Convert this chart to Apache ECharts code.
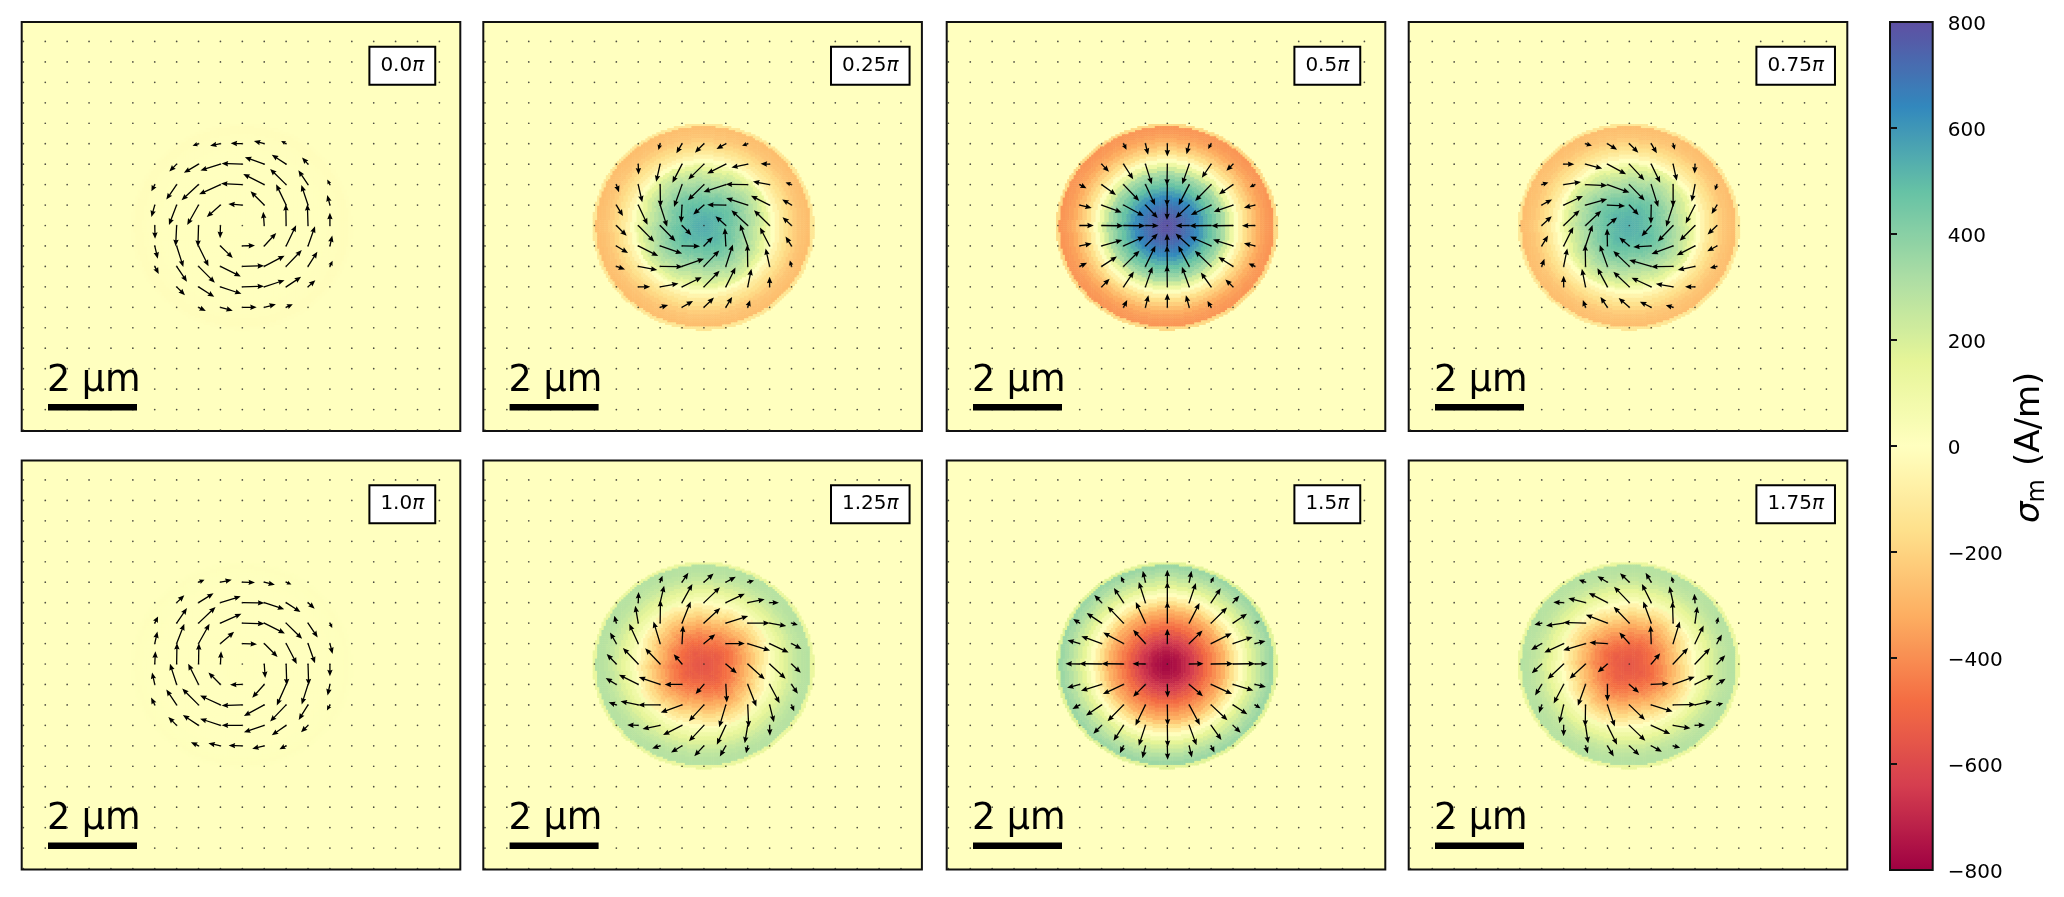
<!DOCTYPE html>
<html>
<head>
<meta charset="utf-8">
<title>sigma_m phases</title>
<script src="https://cdn.jsdelivr.net/npm/echarts@6/dist/echarts.min.js"></script>
<style>
html, body { margin: 0; padding: 0; background: #fff; }
#chart { width: 2064px; height: 897px; }
</style>
</head>
<body>
<div id="chart"></div>
<script>
var phaseLabels = ['0.0', '0.25', '0.5', '0.75', '1.0', '1.25', '1.5', '1.75'];
var colorbarTicks = [-800, -600, -400, -200, 0, 200, 400, 600, 800];
var spectral = ['#9e0142', '#d53e4f', '#f46d43', '#fdae61', '#fee08b', '#ffffbf', '#e6f598', '#abdda4', '#66c2a5', '#3288bd', '#5e4fa2'];
var quiverCols = [0, 1, 2, 3, 4, 5, 6, 7, 8, 9, 10, 11, 12, 13, 14, 15, 16, 17, 18, 19];
var quiverRows = [1, 2, 3, 4, 5, 6, 7, 8, 9, 10, 11, 12, 13, 14, 15, 16, 17, 18, 19, 20];

// sigma_m (A/m) read ring by ring, centre to rim, one ring per 4.4 px
var profile_00 = [2, 2, 2, 2, 2, 1, 1, 1, 1, 0, 0, 0, 0, 0, 0, 0, 0, -1, -1, -2, -3, -4, -6, -8, -9, -4, 0];
var profile_025 = [540, 535, 525, 510, 495, 475, 455, 430, 395, 360, 325, 290, 250, 210, 145, 75, 5, -55, -110, -150, -185, -220, -245, -260, -270, -125, -15];
var profile_05 = [790, 785, 770, 750, 725, 695, 665, 635, 585, 530, 480, 430, 375, 320, 220, 110, 10, -80, -160, -215, -270, -320, -350, -370, -380, -180, -25];
var profile_075 = [530, 525, 518, 505, 490, 470, 450, 425, 390, 355, 320, 285, 245, 205, 140, 70, 0, -55, -110, -150, -185, -220, -245, -258, -268, -125, -15];
var profile_10 = [-2, -2, -2, -2, -2, -1, -1, -1, -1, 0, 0, 0, 0, 0, 0, 0, 0, 1, 1, 2, 3, 4, 6, 8, 9, 4, 0];
var profile_125 = [-555, -550, -540, -525, -505, -480, -450, -415, -375, -330, -285, -235, -180, -125, -65, -5, 50, 100, 145, 185, 220, 250, 270, 285, 290, 130, 15];
var profile_15 = [-775, -770, -755, -735, -705, -670, -635, -590, -540, -490, -445, -400, -355, -310, -235, -160, -80, -5, 75, 160, 205, 250, 295, 330, 355, 170, 20];
var profile_175 = [-550, -545, -535, -520, -500, -475, -445, -410, -370, -325, -280, -230, -175, -120, -60, 0, 55, 105, 150, 190, 225, 252, 272, 285, 290, 130, 15];

// how many rings the pinwheel arms push out, per 22.5 degree sector clockwise from east
var arms_00 = [0, 0, 0, 0, 0, 0, 0, 0, 0, 0, 0, 0, 0, 0, 0, 0];
var arms_025 = [0, 0.5, 1, 0.5, 0, 0.5, 1, 0.5, 0, 0.5, 1, 0.5, 0, 0.5, 1, 0.5];
var arms_05 = [0, 0, 0, 0, 0, 0, 0, 0, 0, 0, 0, 0, 0, 0, 0, 0];
var arms_075 = [0.5, 1, 0.5, 0, 0.5, 1, 0.5, 0, 0.5, 1, 0.5, 0, 0.5, 1, 0.5, 0];
var arms_10 = [0, 0, 0, 0, 0, 0, 0, 0, 0, 0, 0, 0, 0, 0, 0, 0];
var arms_125 = [0, 0.5, 1, 0.5, 0, 0.5, 1, 0.5, 0, 0.5, 1, 0.5, 0, 0.5, 1, 0.5];
var arms_15 = [0, 0, 0, 0, 0, 0, 0, 0, 0, 0, 0, 0, 0, 0, 0, 0];
var arms_175 = [0.5, 1, 0.5, 0, 0.5, 1, 0.5, 0, 0.5, 1, 0.5, 0, 0.5, 1, 0.5, 0];

// quiver arrows: column, row, dx, dy
var arrows_00 = [
    [8,6,-18,6],[9,6,-31,6],[10,6,-35,-1],[11,6,-31,-8],[12,6,-15,-8],
    [7,7,-22,22],[8,7,-44,26],[9,7,-60,19],[10,7,-62,-2],[11,7,-58,-21],[12,7,-43,-28],[13,7,-18,-20],
    [6,8,-10,20],[7,8,-31,45],[8,8,-51,47],[9,8,-64,29],[10,8,-64,-3],[11,8,-63,-32],[12,8,-48,-47],[13,8,-29,-43],[14,8,-8,-15],
    [6,9,-10,36],[7,9,-23,60],[8,9,-34,60],[9,9,-41,36],[10,9,-42,-3],[11,9,-41,-41],[12,9,-30,-62],[13,9,-20,-60],[14,9,-8,-30],
    [6,10,1,40],[7,10,-3,62],[8,10,-2,64],[9,10,-1,38],[11,10,-3,-41],[12,10,-1,-64],[13,10,-2,-64],[14,10,0,-38],
    [6,11,9,38],[7,11,20,63],[8,11,30,61],[9,11,37,36],[10,11,38,-1],[11,11,36,-39],[12,11,30,-62],[13,11,21,-59],[14,11,7,-31],
    [6,12,12,23],[7,12,31,46],[8,12,49,49],[9,12,61,30],[10,12,65,-2],[11,12,61,-32],[12,12,47,-49],[13,12,28,-44],[14,12,8,-17],
    [7,13,25,25],[8,13,47,30],[9,13,63,21],[10,13,65,-2],[11,13,61,-20],[12,13,45,-30],[13,13,22,-20],
    [8,14,22,11],[9,14,37,10],[10,14,43,0],[11,14,35,-9],[12,14,20,-9]
];
var arrows_025 = [
    [8,6,-5,19],[9,6,-17,29],[10,6,-27,27],[11,6,-28,16],[12,6,-17,6],
    [7,7,1,31],[8,7,-12,53],[9,7,-29,56],[10,7,-47,46],[11,7,-56,28],[12,7,-49,10],[13,7,-27,-1],
    [6,8,8,23],[7,8,12,53],[8,8,1,67],[9,8,-24,67],[10,8,-48,47],[11,8,-67,22],[12,8,-66,-1],[13,8,-50,-9],[14,8,-18,-6],
    [6,9,20,33],[7,9,28,59],[8,9,21,65],[9,9,-3,53],[10,9,-32,28],[11,9,-56,-1],[12,9,-65,-21],[13,9,-56,-28],[14,9,-28,-17],
    [6,10,31,31],[7,10,48,49],[8,10,46,47],[9,10,28,29],[11,10,-31,-28],[12,10,-49,-46],[13,10,-47,-46],[14,10,-27,-25],
    [6,11,35,21],[7,11,60,30],[8,11,66,23],[9,11,54,1],[10,11,27,-27],[11,11,-3,-54],[12,11,-23,-65],[13,11,-29,-55],[14,11,-18,-28],
    [6,12,26,9],[7,12,57,11],[8,12,68,1],[9,12,66,-23],[10,12,46,-48],[11,12,21,-66],[12,12,-1,-66],[13,12,-12,-54],[14,12,-5,-18],
    [7,13,36,0],[8,13,55,-10],[9,13,59,-29],[10,13,47,-48],[11,13,29,-58],[12,13,11,-54],[13,13,0,-30],
    [8,14,24,-7],[9,14,33,-19],[10,14,30,-29],[11,14,19,-31],[12,14,7,-21]
];
var arrows_05 = [
    [8,6,9,18],[9,6,8,33],[10,6,0,38],[11,6,-8,32],[12,6,-9,16],
    [7,7,22,23],[8,7,29,45],[9,7,19,60],[10,7,-1,64],[11,7,-21,60],[12,7,-28,41],[13,7,-20,20],
    [6,8,20,11],[7,8,43,31],[8,8,47,49],[9,8,29,62],[10,8,-1,65],[11,8,-32,62],[12,8,-48,49],[13,8,-42,29],[14,8,-16,8],
    [6,9,36,9],[7,9,60,22],[8,9,61,33],[9,9,37,39],[10,9,-1,45],[11,9,-41,39],[12,9,-61,30],[13,9,-58,20],[14,9,-33,8],
    [6,10,42,0],[7,10,65,1],[8,10,65,1],[9,10,40,1],[11,10,-41,1],[12,10,-65,1],[13,10,-65,1],[14,10,-39,1],
    [6,11,36,-7],[7,11,62,-18],[8,11,62,-28],[9,11,37,-37],[10,11,-1,-37],[11,11,-41,-37],[12,11,-63,-28],[13,11,-60,-19],[14,11,-33,-8],
    [6,12,22,-11],[7,12,46,-30],[8,12,48,-47],[9,12,30,-62],[10,12,-1,-63],[11,12,-33,-62],[12,12,-49,-47],[13,12,-44,-28],[14,12,-19,-9],
    [7,13,24,-24],[8,13,31,-46],[9,13,21,-60],[10,13,-1,-65],[11,13,-22,-60],[12,13,-31,-43],[13,13,-23,-22],
    [8,14,11,-22],[9,14,9,-36],[10,14,0,-41],[11,14,-10,-36],[12,14,-11,-19]
];
var arrows_075 = [
    [8,6,19,6],[9,6,29,18],[10,6,27,27],[11,6,17,29],[12,6,5,18],
    [7,7,32,0],[8,7,50,13],[9,7,56,30],[10,7,45,48],[11,7,27,56],[12,7,11,50],[13,7,-1,28],
    [6,8,20,-6],[7,8,52,-8],[8,8,65,3],[9,8,66,24],[10,8,46,48],[11,8,21,67],[12,8,0,67],[13,8,-10,51],[14,8,-6,17],
    [6,9,31,-17],[7,9,58,-27],[8,9,65,-18],[9,9,53,3],[10,9,28,30],[11,9,-1,56],[12,9,-21,65],[13,9,-28,55],[14,9,-16,27],
    [6,10,30,-28],[7,10,48,-46],[8,10,47,-44],[9,10,29,-24],[11,10,-29,32],[12,10,-46,48],[13,10,-46,46],[14,10,-28,27],
    [6,11,19,-31],[7,11,29,-57],[8,11,21,-63],[9,11,-1,-52],[10,11,-30,-25],[11,11,-54,3],[12,11,-65,24],[13,11,-55,28],[14,11,-29,16],
    [6,12,8,-23],[7,12,11,-54],[8,12,-1,-66],[9,12,-23,-64],[10,12,-48,-46],[11,12,-66,-19],[12,12,-66,1],[13,12,-52,11],[14,12,-21,5],
    [7,13,0,-33],[8,13,-11,-54],[9,13,-30,-56],[10,13,-48,-45],[11,13,-59,-27],[12,13,-52,-9],[13,13,-30,0],
    [8,14,-8,-22],[9,14,-21,-31],[10,14,-32,-28],[11,14,-34,-17],[12,14,-22,-6]
];
var arrows_10 = [
    [8,6,18,-7],[9,6,34,-7],[10,6,38,1],[11,6,32,8],[12,6,16,7],
    [7,7,23,-22],[8,7,45,-28],[9,7,61,-19],[10,7,66,1],[11,7,60,20],[12,7,43,28],[13,7,20,18],
    [6,8,10,-20],[7,8,31,-45],[8,8,51,-48],[9,8,63,-28],[10,8,66,2],[11,8,62,31],[12,8,48,47],[13,8,29,43],[14,8,7,15],
    [6,9,8,-36],[7,9,23,-59],[8,9,33,-59],[9,9,41,-35],[10,9,44,2],[11,9,40,40],[12,9,32,61],[13,9,21,59],[14,9,8,31],
    [6,10,2,-38],[7,10,1,-63],[8,10,1,-62],[9,10,2,-38],[11,10,3,42],[12,10,2,64],[13,10,2,64],[14,10,0,37],
    [6,11,-8,-36],[7,11,-20,-62],[8,11,-31,-62],[9,11,-36,-36],[10,11,-37,1],[11,11,-36,40],[12,11,-28,63],[13,11,-19,60],[14,11,-7,33],
    [6,12,-11,-22],[7,12,-31,-46],[8,12,-49,-49],[9,12,-61,-28],[10,12,-62,2],[11,12,-61,33],[12,12,-48,50],[13,12,-28,45],[14,12,-9,17],
    [7,13,-25,-25],[8,13,-47,-31],[9,13,-61,-20],[10,13,-62,0],[11,13,-61,21],[12,13,-43,30],[13,13,-21,21],
    [8,14,-23,-11],[9,14,-36,-8],[10,14,-41,-1],[11,14,-36,9],[12,14,-20,10]
];
var arrows_125 = [
    [8,6,7,-19],[9,6,19,-28],[10,6,29,-26],[11,6,30,-16],[12,6,19,-5],
    [7,7,1,-32],[8,7,12,-51],[9,7,31,-56],[10,7,48,-46],[11,7,57,-27],[12,7,51,-10],[13,7,28,0],
    [6,8,-6,-22],[7,8,-9,-52],[8,8,1,-69],[9,8,26,-65],[10,8,49,-45],[11,8,67,-21],[12,8,66,0],[13,8,50,9],[14,8,19,6],
    [6,9,-19,-33],[7,9,-27,-59],[8,9,-20,-66],[9,9,3,-54],[10,9,34,-28],[11,9,57,0],[12,9,67,21],[13,9,57,27],[14,9,30,16],
    [6,10,-29,-30],[7,10,-46,-48],[8,10,-45,-47],[9,10,-25,-29],[11,10,33,28],[12,10,51,46],[13,10,48,44],[14,10,28,26],
    [6,11,-32,-19],[7,11,-58,-29],[8,11,-64,-22],[9,11,-52,0],[10,11,-25,29],[11,11,3,54],[12,11,26,66],[13,11,30,56],[14,11,19,28],
    [6,12,-23,-8],[7,12,-53,-11],[8,12,-66,0],[9,12,-64,23],[10,12,-45,49],[11,12,-20,67],[12,12,3,67],[13,12,13,52],[14,12,8,19],
    [7,13,-33,-1],[8,13,-53,11],[9,13,-57,29],[10,13,-45,48],[11,13,-27,58],[12,13,-9,54],[13,13,1,31],
    [8,14,-24,8],[9,14,-33,20],[10,14,-29,31],[11,14,-18,32],[12,14,-5,22]
];
var arrows_15 = [
    [8,6,-8,-17],[9,6,-8,-34],[10,6,0,-37],[11,6,7,-34],[12,6,8,-16],
    [7,7,-22,-23],[8,7,-29,-44],[9,7,-20,-62],[10,7,0,-63],[11,7,20,-59],[12,7,29,-43],[13,7,19,-21],
    [6,8,-20,-12],[7,8,-45,-30],[8,8,-48,-50],[9,8,-29,-63],[10,8,0,-65],[11,8,31,-60],[12,8,48,-47],[13,8,42,-28],[14,8,16,-7],
    [6,9,-37,-10],[7,9,-61,-22],[8,9,-61,-33],[9,9,-37,-41],[10,9,0,-44],[11,9,40,-39],[12,9,62,-31],[13,9,59,-20],[14,9,32,-8],
    [6,10,-43,-1],[7,10,-67,-1],[8,10,-66,-1],[9,10,-39,-1],[11,10,43,-1],[12,10,66,-1],[13,10,66,-1],[14,10,38,-1],
    [6,11,-38,10],[7,11,-62,19],[8,11,-62,29],[9,11,-37,37],[10,11,1,39],[11,11,41,35],[12,11,63,29],[13,11,61,18],[14,11,33,8],
    [6,12,-22,12],[7,12,-47,32],[8,12,-48,49],[9,12,-30,62],[10,12,1,62],[11,12,32,60],[12,12,49,46],[13,12,43,28],[14,12,17,10],
    [7,13,-25,25],[8,13,-30,46],[9,13,-20,61],[10,13,1,65],[11,13,22,60],[12,13,31,44],[13,13,23,22],
    [8,14,-11,22],[9,14,-9,37],[10,14,1,42],[11,14,8,35],[12,14,10,20]
];
var arrows_175 = [
    [8,6,-20,-7],[9,6,-30,-18],[10,6,-28,-27],[11,6,-17,-28],[12,6,-5,-17],
    [7,7,-31,-1],[8,7,-52,-13],[9,7,-56,-29],[10,7,-46,-48],[11,7,-28,-56],[12,7,-11,-49],[13,7,-2,-27],
    [6,8,-22,5],[7,8,-53,8],[8,8,-67,-2],[9,8,-65,-25],[10,8,-47,-49],[11,8,-24,-65],[12,8,-2,-65],[13,8,7,-50],[14,8,4,-18],
    [6,9,-32,19],[7,9,-58,27],[8,9,-67,20],[9,9,-54,-3],[10,9,-30,-33],[11,9,-2,-54],[12,9,20,-66],[13,9,26,-54],[14,9,15,-27],
    [6,10,-30,28],[7,10,-48,45],[8,10,-48,44],[9,10,-29,25],[11,10,27,-32],[12,10,45,-48],[13,10,45,-47],[14,10,25,-26],
    [6,11,-20,33],[7,11,-30,57],[8,11,-23,64],[9,11,0,50],[10,11,29,25],[11,11,52,-3],[12,11,65,-23],[13,11,55,-28],[14,11,26,-17],
    [6,12,-8,24],[7,12,-13,55],[8,12,-1,65],[9,12,22,65],[10,12,47,45],[11,12,64,20],[12,12,67,-1],[13,12,51,-11],[14,12,19,-5],
    [7,13,0,33],[8,13,8,54],[9,13,29,58],[10,13,48,46],[11,13,57,26],[12,13,52,9],[13,13,30,-1],
    [8,14,7,23],[9,14,19,32],[10,14,30,28],[11,14,32,18],[12,14,21,6]
];

var profiles = [profile_00, profile_025, profile_05, profile_075, profile_10, profile_125, profile_15, profile_175];
var armTables = [arms_00, arms_025, arms_05, arms_075, arms_10, arms_125, arms_15, arms_175];
var arrowTables = [arrows_00, arrows_025, arrows_05, arrows_075, arrows_10, arrows_125, arrows_15, arrows_175];

var FONT = '"DejaVu Sans", sans-serif';
var panelLefts = [21.7, 483.3, 946.7, 1408.7];
var panelTops = [22, 460.5];
var PANEL_W = 438.6, PANEL_H = 409;
var CELLS = 200;          // drawn cells per side, two to a ring
var STEP_X = 65.7, STEP_Y = 61.3;  // quiver spacing in the units dx, dy were read in

var cellNames = [];
for (var c = 0; c < CELLS; c++) cellNames.push(c);

function buildCells(p) {
    var cells = [];
    var prof = profiles[p], arms = armTables[p];
    for (var j = 0; j < CELLS; j++) {
        for (var i = 0; i < CELLS; i++) {
            var dx = (i + 0.5) / 2 - 50.2, dy = (j + 0.5) / 2 - 50.1;
            var r = Math.sqrt(dx * dx + dy * dy);
            if (r > 25.2) continue;
            var ang = Math.atan2(dy, dx);
            if (ang < 0) ang += Math.PI * 2;
            var ring = r;
            if (r > 3 && r < 15.5) ring = r - arms[Math.floor(ang / (Math.PI / 8)) % 16];
            cells.push([i, j, prof[Math.max(0, Math.round(ring))]]);
        }
    }
    return cells;
}

function renderArrow(params, api) {
    var tail = api.coord([api.value(0), api.value(1)]);
    var tip = api.coord([api.value(0) + api.value(2), api.value(1) + api.value(3)]);
    var vx = tip[0] - tail[0], vy = tip[1] - tail[1];
    var len = Math.sqrt(vx * vx + vy * vy) || 1;
    var ux = vx / len, uy = vy / len;
    var hl = Math.min(6.5, len * 0.8);
    var hw = Math.min(2.7, hl * 0.45);
    var sw = 0.65;
    var nx = -uy, ny = ux;
    var bx = tip[0] - ux * hl, by = tip[1] - uy * hl;
    var nkx = tip[0] - ux * hl * 0.9, nky = tip[1] - uy * hl * 0.9;
    return {
        type: 'polygon',
        shape: { points: [
            [tail[0] + nx * sw, tail[1] + ny * sw],
            [nkx + nx * sw, nky + ny * sw],
            [bx + nx * hw, by + ny * hw],
            tip,
            [bx - nx * hw, by - ny * hw],
            [nkx - nx * sw, nky - ny * sw],
            [tail[0] - nx * sw, tail[1] - ny * sw]
        ] },
        style: { fill: '#000' }
    };
}

var grids = [], xAxes = [], yAxes = [], series = [], graphics = [], heatIndexes = [];

phaseLabels.forEach(function (label, p) {
    var left = panelLefts[p % 4], top = panelTops[p < 4 ? 0 : 1];
    grids.push({
        left: left, top: top, width: PANEL_W, height: PANEL_H,
        show: true, backgroundColor: '#ffffbf', borderColor: '#111', borderWidth: 2
    });
    xAxes.push({ type: 'category', gridIndex: p, data: cellNames, show: false });
    xAxes.push({ type: 'value', gridIndex: p, min: -5, max: 1311, show: false });
    yAxes.push({ type: 'category', gridIndex: p, data: cellNames, inverse: true, show: false });
    yAxes.push({ type: 'value', gridIndex: p, min: 3, max: 1229, inverse: true, show: false });

    heatIndexes.push(series.length);
    series.push({
        type: 'heatmap', xAxisIndex: 2 * p, yAxisIndex: 2 * p, data: buildCells(p),
        progressive: 0, silent: true, itemStyle: { borderWidth: 0 }
    });

    var dots = [];
    quiverRows.forEach(function (r) {
        quiverCols.forEach(function (q) { dots.push([q * STEP_X, r * STEP_Y]); });
    });
    series.push({
        type: 'scatter', xAxisIndex: 2 * p + 1, yAxisIndex: 2 * p + 1, data: dots,
        symbol: 'circle', symbolSize: 1.7, silent: true, progressive: 0,
        itemStyle: { color: '#222' }, z: 3
    });

    series.push({
        type: 'custom', xAxisIndex: 2 * p + 1, yAxisIndex: 2 * p + 1, silent: true, progressive: 0,
        renderItem: renderArrow, clip: true, z: 4,
        encode: { x: 0, y: 1 },
        data: arrowTables[p].map(function (a) {
            return [a[0] * STEP_X, a[1] * STEP_Y, a[2], a[3]];
        })
    });

    graphics.push({
        type: 'text', x: left + 348.7, y: top + 25.7, z: 20,
        style: {
            text: '{n|' + label + '}{pi|π}',
            backgroundColor: '#fff', borderColor: '#000', borderWidth: 2, padding: [6, 10],
            rich: {
                n: { fontFamily: FONT, fontSize: 20, lineHeight: 24, fill: '#000' },
                pi: { fontFamily: FONT, fontSize: 20, lineHeight: 24, fontStyle: 'italic', fill: '#000' }
            }
        }
    });
    graphics.push({
        type: 'text', x: left + 25.3, y: top + 359.5, z: 20,
        style: { text: '2 µm', fontFamily: FONT, fontSize: 36.5, fill: '#000', verticalAlign: 'middle' }
    });
    graphics.push({
        type: 'rect', z: 20,
        shape: { x: left + 26.3, y: top + 382, width: 89, height: 6.5 },
        style: { fill: '#000' }
    });
});

// colour bar: the visualMap gradient with a tick axis on top of it
grids.push({ left: 1890, top: 22, width: 42.7, height: 848, show: true, z: 8, backgroundColor: 'transparent', borderColor: '#111', borderWidth: 2 });
xAxes.push({ type: 'value', gridIndex: 8, min: 0, max: 1, show: false });
yAxes.push({
    type: 'value', gridIndex: 8, position: 'right', z: 8,
    min: colorbarTicks[0], max: colorbarTicks[colorbarTicks.length - 1], interval: 200,
    splitLine: { show: false }, axisLine: { show: false },
    axisTick: { show: true, length: 7, lineStyle: { color: '#111', width: 2 } },
    axisLabel: {
        margin: 15, fontFamily: FONT, fontSize: 20, color: '#000',
        verticalAlign: 'top', lineHeight: 5,
        formatter: function (v) { return String(v).replace('-', '\u2212'); }
    }
});

// axis title, three pieces so the subscript can sit lower
graphics.push({
    type: 'text', x: 2030, y: 523, rotation: Math.PI / 2, z: 20,
    style: { text: 'σ', fontFamily: FONT, fontSize: 34, fontStyle: 'italic', fill: '#000', verticalAlign: 'middle' }
});
graphics.push({
    type: 'text', x: 2037.5, y: 502.5, rotation: Math.PI / 2, z: 20,
    style: { text: 'm', fontFamily: FONT, fontSize: 24, fill: '#000', verticalAlign: 'middle' }
});
graphics.push({
    type: 'text', x: 2030, y: 466, rotation: Math.PI / 2, z: 20,
    style: { text: '(A/m)', fontFamily: FONT, fontSize: 34, fill: '#000', verticalAlign: 'middle' }
});

var chart = echarts.init(document.getElementById('chart'), null, { renderer: 'canvas' });
chart.setOption({
    animation: false,
    backgroundColor: '#fff',
    textStyle: { fontFamily: FONT },
    grid: grids,
    xAxis: xAxes,
    yAxis: yAxes,
    visualMap: {
        type: 'continuous', min: -800, max: 800, seriesIndex: heatIndexes,
        left: 1890, top: 22, itemWidth: 42.7, itemHeight: 848, padding: 0,
        calculable: false, hoverLink: false, text: null, z: 1,
        inRange: { color: spectral }
    },
    series: series,
    graphic: graphics
});
</script>
</body>
</html>
